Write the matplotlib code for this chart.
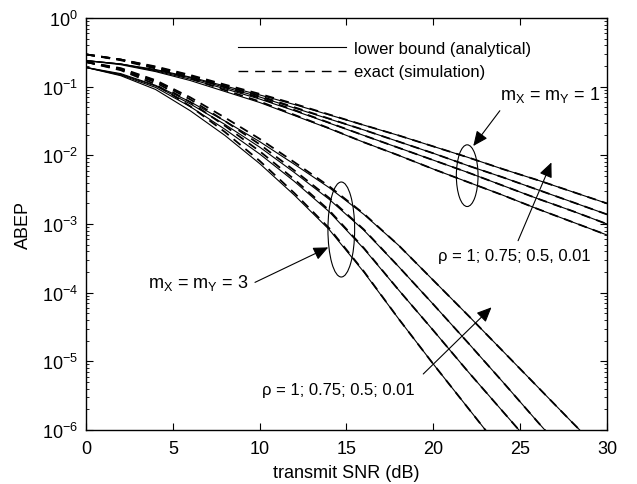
import numpy as np
import matplotlib
matplotlib.use('Agg')
import matplotlib.pyplot as plt
from matplotlib.patches import Ellipse
from matplotlib.lines import Line2D
from matplotlib.transforms import ScaledTranslation

plt.rcParams['font.family'] = ['Liberation Sans', 'DejaVu Sans']
plt.rcParams['mathtext.fontset'] = 'custom'
plt.rcParams['mathtext.rm'] = 'Liberation Sans'
plt.rcParams['mathtext.it'] = 'Liberation Sans:italic'
plt.rcParams['mathtext.bf'] = 'Liberation Sans:bold'

# ---------------- data (log10 of ABEP) ----------------
snr_db = [0, 2, 4, 6, 8, 10, 12, 14, 16, 18, 20, 22, 24, 26, 28, 30]

# m_X = m_Y = 1, lower bound (analytical)
m1_lb_a = [-0.62, -0.67, -0.75, -0.86, -0.99, -1.12, -1.26, -1.41, -1.56, -1.71, -1.87, -2.03, -2.20, -2.36, -2.53, -2.70]
m1_lb_b = [-0.62, -0.67, -0.76, -0.87, -1.01, -1.15, -1.31, -1.47, -1.63, -1.80, -1.97, -2.15, -2.32, -2.50, -2.68, -2.86]
m1_lb_c = [-0.62, -0.67, -0.77, -0.89, -1.03, -1.18, -1.35, -1.53, -1.71, -1.89, -2.07, -2.25, -2.44, -2.63, -2.81, -3.00]
m1_lb_d = [-0.62, -0.68, -0.78, -0.91, -1.07, -1.23, -1.42, -1.61, -1.81, -2.00, -2.20, -2.39, -2.58, -2.78, -2.97, -3.16]
# m_X = m_Y = 1, exact (simulation)
m1_ex_a = [-0.53, -0.605, -0.705, -0.83, -0.97, -1.105, -1.25, -1.405, -1.56, -1.71, -1.87, -2.03, -2.20, -2.36, -2.53, -2.70]
m1_ex_b = [-0.53, -0.605, -0.715, -0.84, -0.99, -1.135, -1.30, -1.465, -1.63, -1.80, -1.97, -2.15, -2.32, -2.50, -2.68, -2.86]
m1_ex_c = [-0.53, -0.605, -0.725, -0.86, -1.01, -1.165, -1.34, -1.525, -1.71, -1.89, -2.07, -2.25, -2.44, -2.63, -2.81, -3.00]
m1_ex_d = [-0.53, -0.615, -0.735, -0.88, -1.05, -1.215, -1.41, -1.605, -1.81, -2.00, -2.20, -2.39, -2.58, -2.78, -2.97, -3.16]

# m_X = m_Y = 3, lower bound (analytical)
m3_lb_a = [-0.72, -0.81, -0.98, -1.22, -1.50, -1.80, -2.13, -2.47, -2.86, -3.31, -3.82, -4.33, -4.85, -5.37, -5.89, -6.40]
m3_lb_b = [-0.72, -0.82, -0.99, -1.25, -1.55, -1.88, -2.25, -2.64, -3.09, -3.62, -4.17, -4.73, -5.30, -5.88, -6.45, -7.00]
m3_lb_c = [-0.72, -0.83, -1.01, -1.29, -1.62, -1.98, -2.38, -2.82, -3.36, -3.96, -4.55, -5.15, -5.73, -6.31, -6.90, -7.50]
m3_lb_d = [-0.72, -0.84, -1.04, -1.35, -1.71, -2.12, -2.58, -3.08, -3.70, -4.38, -5.04, -5.68, -6.32, -6.96, -7.60, -8.24]
# m_X = m_Y = 3, exact (simulation)
m3_ex_a = [-0.64, -0.73, -0.905, -1.155, -1.45, -1.76, -2.10, -2.45, -2.85, -3.31, -3.82, -4.33, -4.85, -5.37, -5.89, -6.40]
m3_ex_b = [-0.64, -0.74, -0.915, -1.185, -1.50, -1.84, -2.22, -2.62, -3.08, -3.62, -4.17, -4.73, -5.30, -5.88, -6.45, -7.00]
m3_ex_c = [-0.64, -0.75, -0.935, -1.225, -1.57, -1.94, -2.35, -2.80, -3.35, -3.96, -4.55, -5.15, -5.73, -6.31, -6.90, -7.50]
m3_ex_d = [-0.64, -0.76, -0.965, -1.285, -1.66, -2.08, -2.55, -3.06, -3.69, -4.38, -5.04, -5.68, -6.32, -6.96, -7.60, -8.24]

lower_bound_sets = [m1_lb_a, m1_lb_b, m1_lb_c, m1_lb_d, m3_lb_a, m3_lb_b, m3_lb_c, m3_lb_d]
exact_sets = [m1_ex_a, m1_ex_b, m1_ex_c, m1_ex_d, m3_ex_a, m3_ex_b, m3_ex_c, m3_ex_d]

legend_labels = ['lower bound (analytical)', 'exact (simulation)']
x_ticks = [0, 5, 10, 15, 20, 25, 30]

# ---------------- figure ----------------
fig = plt.figure(figsize=(6.37, 4.85), dpi=100)
ax = fig.add_axes([0.135, 0.1113, 0.8179, 0.8495])

x = np.array(snr_db)
for arr in lower_bound_sets:
    ax.semilogy(x, 10 ** np.array(arr), color='k', lw=0.8, solid_joinstyle='round')
for arr in exact_sets:
    ax.semilogy(x, 10 ** np.array(arr), color='k', lw=1.3, dashes=(5, 3.5))

ax.set_xlim(0, 30)
ax.set_ylim(1e-6, 1)
ax.set_xticks(x_ticks)
ax.tick_params(which='both', direction='in', top=True, right=True, labelsize=13)
ax.tick_params(which='major', length=5, width=0.8)
ax.tick_params(which='minor', length=2.5, width=0.6)
ax.tick_params(axis='x', pad=7)
ax.tick_params(axis='y', pad=6)
for s in ax.spines.values():
    s.set_linewidth(1.0)

ax.set_xlabel('transmit SNR (dB)', fontsize=13)
ax.set_ylabel('ABEP', fontsize=13)
ax.xaxis.set_label_coords(0.5, -0.082)
ax.yaxis.set_label_coords(-0.104, 0.5)

handles = [Line2D([], [], color='k', lw=0.8),
           Line2D([], [], color='k', lw=1.0, dashes=(7, 5))]
ax.legend(handles, legend_labels, loc='upper left', bbox_to_anchor=(0.292, 0.945),
          frameon=False, fontsize=12, handlelength=6.5, handletextpad=0.45,
          labelspacing=0.52, borderpad=0, borderaxespad=0)

arrow_kw = dict(arrowstyle='-|>,head_length=0.45,head_width=0.2', color='k', lw=0.8,
                mutation_scale=20, shrinkA=0, shrinkB=0)

# m = 1 annotations
ax.text(23.83, 10 ** -1.18, r'm$_\mathregular{X}$ = m$_\mathregular{Y}$ = 1', fontsize=13,
        ha='left', va='baseline')
ax.annotate('', xy=(22.3, 10 ** -1.864), xytext=(23.83, 10 ** -1.35), arrowprops=arrow_kw)
ax.text(20.26, 10 ** -3.52, 'ρ = 1; 0.75; 0.5, 0.01', fontsize=12, ha='left', va='baseline')
ax.annotate('', xy=(26.8, 10 ** -2.103), xytext=(24.88, 10 ** -3.243), arrowprops=arrow_kw)

# m = 3 annotations
ax.text(3.57, 10 ** -3.92, r'm$_\mathregular{X}$ = m$_\mathregular{Y}$ = 3', fontsize=13,
        ha='left', va='baseline')
ax.annotate('', xy=(13.95, 10 ** -3.34), xytext=(9.73, 10 ** -3.85), arrowprops=arrow_kw)
ax.text(10.12, 10 ** -5.475, 'ρ = 1; 0.75; 0.5; 0.01', fontsize=12, ha='left', va='baseline')
ax.annotate('', xy=(23.35, 10 ** -4.213), xytext=(19.42, 10 ** -5.184), arrowprops=arrow_kw)

# ellipses (sized in display units, centred in data coords)
for cx, cy, w, h in [(21.95, 10 ** -2.296, 0.217, 0.617), (14.7, 10 ** -3.08, 0.267, 0.95)]:
    tr = fig.dpi_scale_trans + ScaledTranslation(cx, cy, ax.transData)
    ax.add_patch(Ellipse((0, 0), w, h, transform=tr, fill=False, ec='k', lw=0.8))

fig.savefig('out.png', dpi=100)
